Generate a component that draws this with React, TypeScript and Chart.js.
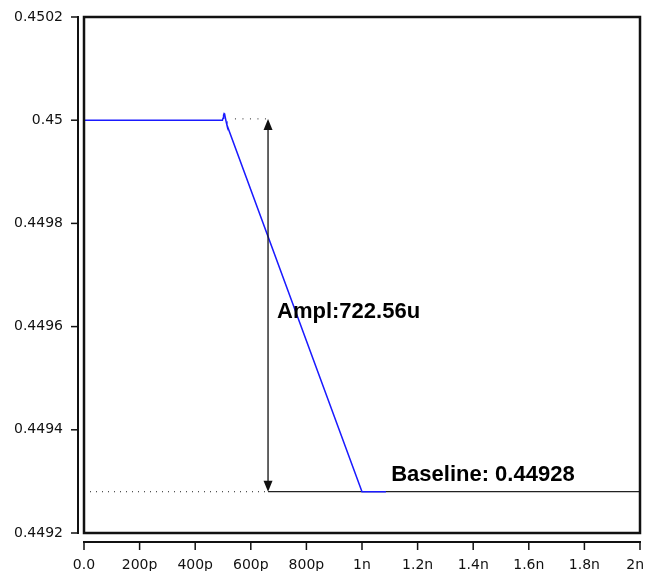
import React, { useEffect, useRef } from "react";
import { Chart, registerables } from "chart.js";

Chart.register(...registerables);

// waveform (time in ns, voltage in V)
const timeNs = [0, 0.498, 0.5, 0.502, 0.504, 0.506, 0.508, 0.511, 0.514, 1.0, 1.086];
const voltage = [0.45, 0.45, 0.450004, 0.45001, 0.450013, 0.450012, 0.450006, 0.449998, 0.449991, 0.44928, 0.44928];

const xTickValues = [0, 0.2, 0.4, 0.6, 0.8, 1.0, 1.2, 1.4, 1.6, 1.8, 2.0];
const xTickLabels = ["0.0", "200p", "400p", "600p", "800p", "1n", "1.2n", "1.4n", "1.6n", "1.8n", "2n"];
const yTickValues = [0.4492, 0.4494, 0.4496, 0.4498, 0.45, 0.4502];
const yTickLabels = ["0.4492", "0.4494", "0.4496", "0.4498", "0.45", "0.4502"];

// measurement annotation
const baselineValue = [0.44928];
const amplitudeValue = [0.00072256];
const markerTimeNs = [0.662];
const topDotStartNs = [0.543];
const amplLabel = ["Ampl:722.56u"];
const baselineLabel = ["Baseline: 0.44928"];
const baselineLabelNs = [1.105];

const TICK_FONT = "14px 'DejaVu Sans', Verdana, sans-serif";
const VISIBLE_RIGHT = 644;

const annotationPlugin = {
  id: "measure",
  beforeDatasetsDraw(chart: any) {
    const { ctx, chartArea: a, scales } = chart;
    const x = scales.x, y = scales.y;
    const mx = x.getPixelForValue(markerTimeNs[0]);
    const by = y.getPixelForValue(baselineValue[0]);
    ctx.save();
    ctx.strokeStyle = "#222";
    ctx.lineWidth = 1.2;
    ctx.beginPath();
    ctx.moveTo(mx, by);
    ctx.lineTo(a.right, by);
    ctx.stroke();
    ctx.setLineDash([1, 5]);
    ctx.lineWidth = 1;
    ctx.beginPath();
    ctx.moveTo(a.left, by);
    ctx.lineTo(mx, by);
    ctx.stroke();
    const ty = y.getPixelForValue(baselineValue[0] + amplitudeValue[0]);
    ctx.setLineDash([1, 6.5]);
    ctx.beginPath();
    ctx.moveTo(x.getPixelForValue(topDotStartNs[0]), ty);
    ctx.lineTo(mx, ty);
    ctx.stroke();
    ctx.restore();
  },
  afterDraw(chart: any) {
    const { ctx, chartArea: a, scales } = chart;
    const x = scales.x, y = scales.y;
    const mx = x.getPixelForValue(markerTimeNs[0]);
    const by = y.getPixelForValue(baselineValue[0]);
    const ty = y.getPixelForValue(baselineValue[0] + amplitudeValue[0]);
    ctx.save();
    ctx.strokeStyle = "#111";
    ctx.fillStyle = "#111";
    ctx.lineWidth = 1.3;
    ctx.beginPath();
    ctx.moveTo(mx, ty + 6);
    ctx.lineTo(mx, by - 6);
    ctx.stroke();
    ctx.beginPath();
    ctx.moveTo(mx, ty);
    ctx.lineTo(mx - 4.5, ty + 11);
    ctx.lineTo(mx + 4.5, ty + 11);
    ctx.closePath();
    ctx.fill();
    ctx.beginPath();
    ctx.moveTo(mx, by);
    ctx.lineTo(mx - 4.5, by - 11);
    ctx.lineTo(mx + 4.5, by - 11);
    ctx.closePath();
    ctx.fill();
    ctx.fillStyle = "#000";
    ctx.font = "bold 22px 'Liberation Sans', Arial, sans-serif";
    ctx.textAlign = "left";
    ctx.textBaseline = "alphabetic";
    ctx.fillText(amplLabel[0], mx + 9, (ty + by) / 2 + 13);
    ctx.fillText(baselineLabel[0], x.getPixelForValue(baselineLabelNs[0]), by - 11);

    ctx.strokeStyle = "#111";
    ctx.lineWidth = 2.5;
    ctx.strokeRect(a.left, a.top, a.right - a.left, a.bottom - a.top);

    const yx = a.left - 6;
    ctx.lineWidth = 2;
    ctx.beginPath();
    ctx.moveTo(yx, y.getPixelForValue(yTickValues[yTickValues.length - 1]) - 1);
    ctx.lineTo(yx, y.getPixelForValue(yTickValues[0]) + 1);
    ctx.stroke();
    ctx.lineWidth = 1.5;
    yTickValues.forEach((v) => {
      const py = y.getPixelForValue(v);
      ctx.beginPath();
      ctx.moveTo(yx - 7, py);
      ctx.lineTo(yx, py);
      ctx.stroke();
    });
    const xy = a.bottom + 9;
    ctx.lineWidth = 2;
    ctx.beginPath();
    ctx.moveTo(x.getPixelForValue(xTickValues[0]) - 1, xy);
    ctx.lineTo(x.getPixelForValue(xTickValues[xTickValues.length - 1]) + 1, xy);
    ctx.stroke();
    ctx.lineWidth = 1.5;
    ctx.fillStyle = "#111";
    ctx.font = TICK_FONT;
    ctx.textAlign = "center";
    ctx.textBaseline = "alphabetic";
    xTickValues.forEach((v, i) => {
      const px = x.getPixelForValue(v);
      ctx.beginPath();
      ctx.moveTo(px, xy);
      ctx.lineTo(px, xy + 8);
      ctx.stroke();
      const w = ctx.measureText(xTickLabels[i]).width;
      const lx = Math.min(px, VISIBLE_RIGHT - w / 2);
      ctx.fillText(xTickLabels[i], lx, a.bottom + 36);
    });
    ctx.restore();
  },
};

const zeroPad = (s: any) => {
  s.paddingLeft = 0;
  s.paddingRight = 0;
  s.paddingTop = 0;
  s.paddingBottom = 0;
};

export default function App() {
  const ref = useRef<HTMLCanvasElement | null>(null);
  useEffect(() => {
    if (!ref.current) return;
    const tickFont = { family: "'DejaVu Sans', Verdana, sans-serif", size: 14 };
    const chart = new Chart(ref.current, {
      type: "line",
      data: {
        datasets: [
          {
            data: timeNs.map((t, i) => ({ x: t, y: voltage[i] })),
            borderColor: "#1a1aff",
            borderWidth: 1.5,
            pointRadius: 0,
            fill: false,
            tension: 0,
          },
        ],
      },
      options: {
        responsive: false,
        animation: false,
        devicePixelRatio: 1,
        layout: { padding: { left: 8, right: 13, top: 9, bottom: 0 } },
        plugins: { legend: { display: false }, tooltip: { enabled: false } },
        scales: {
          x: {
            type: "linear",
            min: 0,
            max: 2,
            grid: { display: false, drawTicks: false },
            border: { display: false },
            afterBuildTicks: (s: any) => {
              s.ticks = xTickValues.map((v) => ({ value: v }));
            },
            afterFit: (s: any) => {
              s.height = 46;
              zeroPad(s);
            },
            ticks: { display: false },
          },
          y: {
            type: "linear",
            min: 0.4492,
            max: 0.4502,
            grid: { display: false, drawTicks: false },
            border: { display: false },
            afterBuildTicks: (s: any) => {
              s.ticks = yTickValues.map((v) => ({ value: v }));
            },
            afterFit: (s: any) => {
              s.width = 76;
              zeroPad(s);
            },
            ticks: {
              padding: 21,
              autoSkip: false,
              color: "#111",
              font: tickFont,
              callback: (_v: any, i: number) => yTickLabels[i],
            },
          },
        },
      },
      plugins: [annotationPlugin],
    });
    return () => chart.destroy();
  }, []);
  return (
    <canvas
      ref={ref}
      width={653}
      height={571}
      style={{ display: "block", width: 653, height: 571, marginLeft: -8, marginBottom: -8 }}
    />
  );
}
